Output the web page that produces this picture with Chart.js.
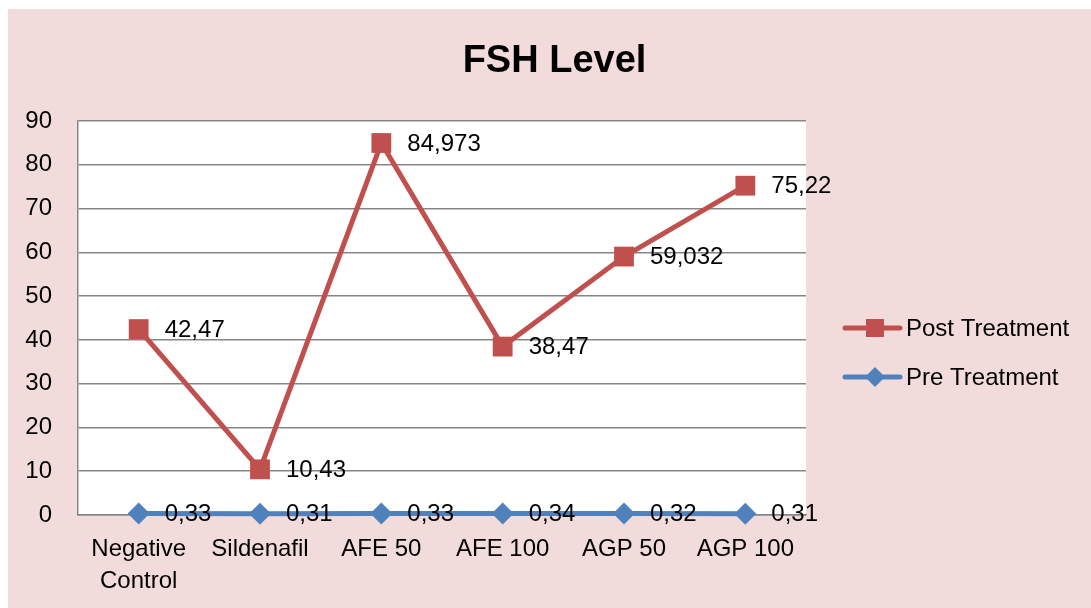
<html>
<head>
    <meta name="viewport" content="width=device-width, initial-scale=1.0">
    <title>FSH Level</title>
    <style>
        body { margin: 0; background: #fff; }
        #wrap { width: 1091px; height: 608px; }
    </style>
</head>
<body>
    <div id="wrap"><canvas id="myChart"></canvas></div>
</body>
<script src="https://cdn.jsdelivr.net/npm/chart.js"></script>
<script>
    const categories = [['Negative', 'Control'], 'Sildenafil', 'AFE 50', 'AFE 100', 'AGP 50', 'AGP 100']
    const postTreatment = [42.47, 10.43, 84.973, 38.47, 59.032, 75.22]
    const preTreatment = [0.33, 0.31, 0.33, 0.34, 0.32, 0.31]
    const yTicks = [0, 10, 20, 30, 40, 50, 60, 70, 80, 90]

    const RED = '#C0504D'
    const BLUE = '#4F81BD'
    const FONT = "'Liberation Sans', Arial, sans-serif"

    // pink frame, white plot area
    const background = {
        id: 'background',
        beforeDraw(chart) {
            const { ctx, chartArea: a } = chart
            ctx.save()
            ctx.fillStyle = '#fff'
            ctx.fillRect(0, 0, chart.width, chart.height)
            ctx.fillStyle = '#F2DCDB'
            ctx.fillRect(8, 9, chart.width - 8, chart.height - 9)
            ctx.fillStyle = '#fff'
            ctx.fillRect(a.left, a.top, a.right - a.left, a.bottom - a.top)
            ctx.restore()
        }
    }

    // values next to each point, with decimal comma
    const valueLabels = {
        id: 'valueLabels',
        afterDatasetsDraw(chart) {
            const ctx = chart.ctx
            ctx.save()
            ctx.font = '24px ' + FONT
            ctx.fillStyle = '#000'
            ctx.textAlign = 'left'
            ctx.textBaseline = 'middle'
            chart.data.datasets.forEach((ds, i) => {
                chart.getDatasetMeta(i).data.forEach((pt, j) => {
                    ctx.fillText(String(ds.data[j]).replace('.', ','), pt.x + 26, pt.y + 1)
                })
            })
            ctx.restore()
        }
    }

    // title + excel style legend (line with marker)
    const titleAndLegend = {
        id: 'titleAndLegend',
        afterDraw(chart) {
            const { ctx, chartArea: a } = chart
            ctx.save()
            ctx.fillStyle = '#000'
            ctx.font = 'bold 38px ' + FONT
            ctx.textAlign = 'center'
            ctx.textBaseline = 'middle'
            ctx.fillText('FSH Level', (8 + chart.width) / 2 + 5, 62)

            ctx.font = '24px ' + FONT
            ctx.textAlign = 'left'
            chart.data.datasets.forEach((ds, i) => {
                const y = a.top + 207 + i * 49
                const x0 = a.right + 39
                ctx.strokeStyle = ds.borderColor
                ctx.lineWidth = 5
                ctx.lineCap = 'round'
                ctx.beginPath()
                ctx.moveTo(x0, y)
                ctx.lineTo(x0 + 55, y)
                ctx.stroke()
                ctx.fillStyle = ds.borderColor
                const cx = x0 + 30
                if (ds.pointStyle === 'rect') {
                    ctx.fillRect(cx - 9, y - 9, 18, 18)
                } else {
                    ctx.beginPath()
                    ctx.moveTo(cx - 10, y)
                    ctx.lineTo(cx, y - 10)
                    ctx.lineTo(cx + 10, y)
                    ctx.lineTo(cx, y + 10)
                    ctx.closePath()
                    ctx.fill()
                }
                ctx.fillStyle = '#000'
                ctx.fillText(ds.label, x0 + 61, y + 1)
            })
            ctx.restore()
        }
    }

    const data = {
        labels: categories,
        datasets: [{
            label: 'Post Treatment',
            data: postTreatment,
            borderColor: RED,
            backgroundColor: RED,
            borderWidth: 5,
            pointStyle: 'rect',
            pointRadius: 14,
            pointBorderWidth: 0,
            pointHoverRadius: 14,
            clip: false
        }, {
            label: 'Pre Treatment',
            data: preTreatment,
            borderColor: BLUE,
            backgroundColor: BLUE,
            borderWidth: 5,
            pointStyle: 'rectRot',
            pointRadius: 11,
            pointBorderWidth: 0,
            pointHoverRadius: 11,
            clip: false
        }]
    }

    const ctx = document.getElementById('myChart').getContext('2d')
    new Chart(ctx, {
        type: 'line',
        data: data,
        plugins: [background, valueLabels, titleAndLegend],
        options: {
            responsive: true,
            maintainAspectRatio: false,
            animation: false,
            layout: { padding: { left: 18, right: 285, top: 121, bottom: 0 } },
            plugins: {
                legend: { display: false },
                title: { display: false },
                tooltip: { enabled: false }
            },
            scales: {
                x: {
                    offset: true,
                    grid: { display: false, drawTicks: false },
                    border: { color: '#868686', width: 1.5 },
                    ticks: {
                        color: '#000',
                        padding: 18,
                        maxRotation: 0,
                        font: { family: FONT, size: 24, lineHeight: 1.33 }
                    },
                    afterFit(scale) { scale.height = 93 }
                },
                y: {
                    min: 0,
                    max: 90,
                    afterBuildTicks(scale) { scale.ticks = yTicks.map(v => ({ value: v })) },
                    grid: { color: '#868686', lineWidth: 1.5, drawTicks: false },
                    border: { color: '#868686', width: 1.5 },
                    ticks: {
                        color: '#000',
                        padding: 26,
                        font: { family: FONT, size: 24 }
                    },
                    afterFit(scale) { scale.width = 60 }
                }
            }
        }
    })
</script>
</html>
